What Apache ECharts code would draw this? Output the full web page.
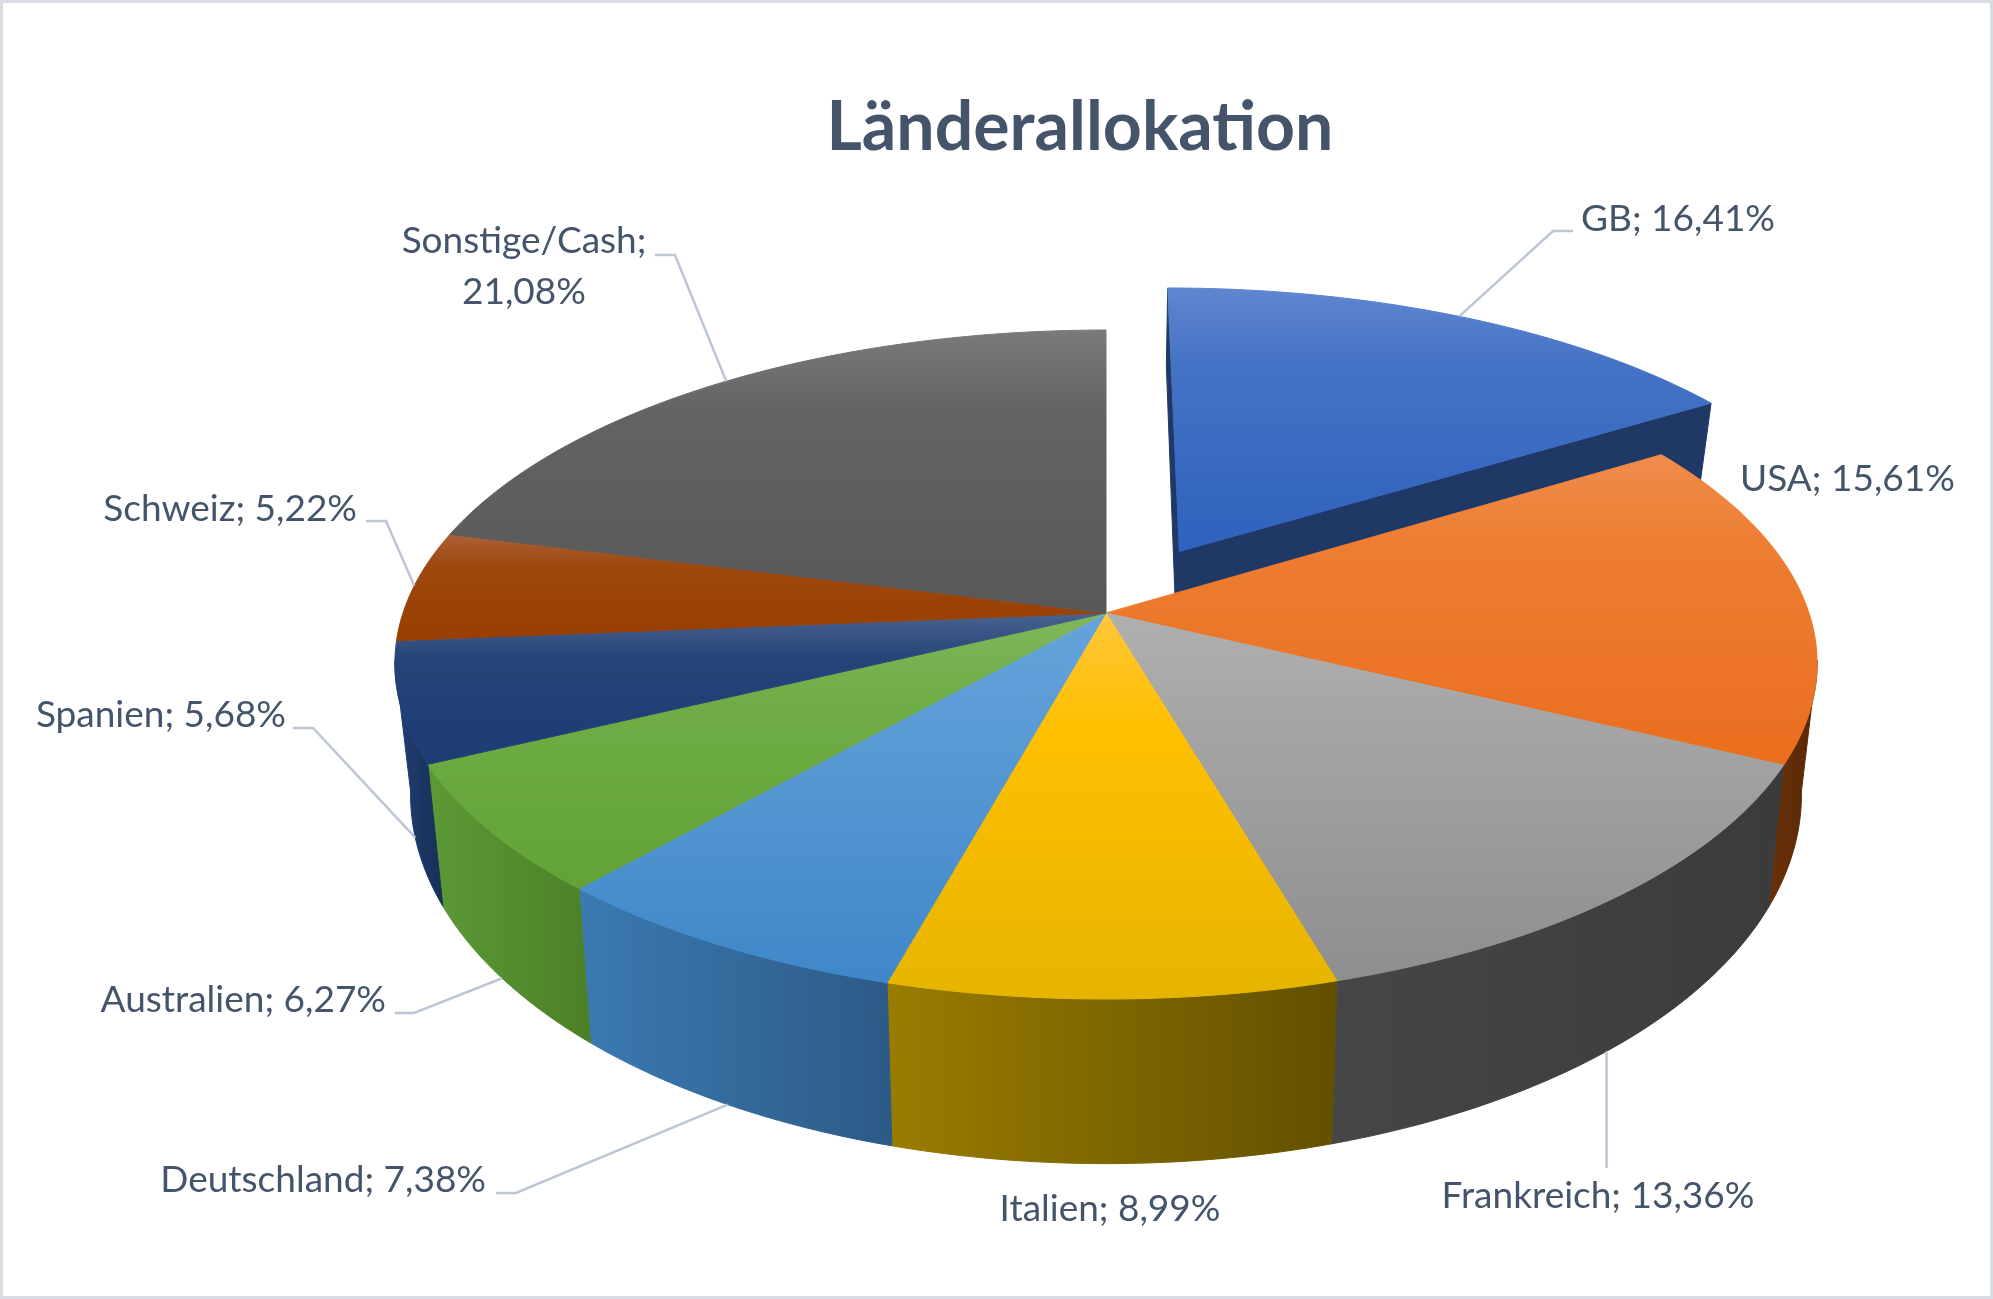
<!DOCTYPE html>
<html>
<head>
<meta charset="utf-8">
<script src="https://cdn.jsdelivr.net/npm/echarts@6/dist/echarts.min.js"></script>
<style>
  html, body { margin: 0; padding: 0; background: #fff; }
  #chart { width: 1993px; height: 1299px; }
</style>
</head>
<body>
<div id="chart"></div>
<script>
/* 3D-style pie (Excel look) drawn with a custom series: each slice's angles
   come from its share, geometry is a pseudo-perspective projection. */
const countries = ["GB", "USA", "Frankreich", "Italien", "Deutschland",
  "Australien", "Spanien", "Schweiz", "Sonstige/Cash"];
const shares = [16.41, 15.61, 13.36, 8.99, 7.38, 6.27, 5.68, 5.22, 21.08];

// ---- style + layout (no data in here) ----
const TOP = ["#4472C4", "#ED7D31", "#A5A5A5", "#FFC000", "#5B9BD5",
  "#70AD47", "#264478", "#9E480E", "#636363"];
const TOP_HI = ["#5f86d0", "#f08c4c", "#b0b0b0", "#ffc63a", "#66a3dc",
  "#7fb85c", "#4a638f", "#ac6038", "#7a7a7a"];
const TOP_LO = ["#2f62be", "#ea6e1e", "#8e8e8e", "#e6b400", "#3f87c8",
  "#62a236", "#1d3b75", "#983e00", "#585858"];
const WALL = [["#1f3866", "#1b315c"], ["#6a3209", "#572707"], ["#464646", "#3b3b3b"],
  ["#9a7c00", "#625000"], ["#3b7ab2", "#2c5a86"], ["#5c9a36", "#4c8028"],
  ["#223f72", "#172f58"], ["#7a3508", "#6a2d06"], ["#4a4a4a", "#3c3c3c"]];
const EXPLODE = [0.218, 0, 0, 0, 0, 0, 0, 0, 0];
const LABEL_AT = [
  { x: 1581, y: 219, align: "left", elbow: [1573, 231, -20] },
  { x: 1740, y: 479, align: "left" },
  { x: 1598, y: 1196, align: "center", drop: 1168 },
  { x: 1110, y: 1209, align: "center" },
  { x: 486, y: 1180, align: "right", elbow: [496, 1193, 20] },
  { x: 386, y: 1000, align: "right", elbow: [395, 1013, 19] },
  { x: 286, y: 715, align: "right", elbow: [293, 728, 20] },
  { x: 357, y: 509, align: "right", elbow: [366, 521, 20] },
  { x: 524, y: 267, align: "center", elbow: [655, 255, 20], wrap: true },
];
const CX = 1106, CY = 613, RX = 703, RY = 334.5, P = 0.154; // top ellipse
const H0 = 125, PH = 0.317, QB = 0.978;                     // wall depth
const WALL_FROM = 98, WALL_TO = 262;                        // visible side arc
const INK = "#44546A", LEAD = "#bcc6d4", FONT = "Lato, 'Open Sans', sans-serif";

const total = shares.reduce((a, b) => a + b, 0);
const starts = [];
shares.reduce((acc, s) => { starts.push(acc / total * 360); return acc + s; }, 0);

const rad = (d) => d * Math.PI / 180;
function proj(u, v, bottom) {
  const w = 1 + P * v;
  let x = RX * u * w, y = RY * v * w;
  if (bottom) { x *= QB; y += H0 * (1 + PH * v); }
  return [CX + x, CY + y];
}
// angle in degrees, clockwise from 12 o'clock
const rim = (d, o, bottom) => proj(Math.sin(rad(d)) + o[0], -Math.cos(rad(d)) + o[1], bottom);

function renderItem(params, api) {
  const i = params.dataIndex;
  const a0 = starts[i], a1 = a0 + api.value(0) / total * 360, mid = (a0 + a1) / 2;
  const e = EXPLODE[i];
  const o = [e * Math.sin(rad(mid)), -e * Math.cos(rad(mid))];
  const base = e > 0 ? 0 : 4; // exploded slice sits at the back
  const kids = [];

  // outer wall, front half only
  const lo = Math.max(a0, WALL_FROM), hi = Math.min(a1, WALL_TO);
  if (hi > lo) {
    const m = Math.max(2, Math.ceil(hi - lo)), top = [], bot = [];
    for (let k = 0; k <= m; k++) {
      const d = lo + (hi - lo) * k / m;
      top.push(rim(d, o, 0)); bot.push(rim(d, o, 1));
    }
    const g = new echarts.graphic.LinearGradient(0, 0, 1, 0,
      [{ offset: 0, color: WALL[i][0] }, { offset: 1, color: WALL[i][1] }]);
    kids.push({ type: "polygon", z2: base, shape: { points: top.concat(bot.reverse()) },
      style: { fill: g, stroke: g, lineWidth: 1 } });
  }
  // cut faces of the exploded slice
  if (e > 0) {
    [a0, a1].forEach((d) => {
      const pts = [proj(o[0], o[1], 0), rim(d, o, 0), rim(d, o, 1), proj(o[0], o[1], 1)];
      kids.push({ type: "polygon", z2: base, shape: { points: pts },
        style: { fill: WALL[i][0], stroke: WALL[i][0], lineWidth: 1 } });
    });
  }
  // top surface
  const n = Math.max(2, Math.ceil(a1 - a0)), topPts = [proj(o[0], o[1], 0)];
  for (let k = 0; k <= n; k++) topPts.push(rim(a0 + (a1 - a0) * k / n, o, 0));
  const tg = new echarts.graphic.LinearGradient(0, 0, 0, 1, [
    { offset: 0, color: TOP_HI[i] }, { offset: 0.3, color: TOP[i] }, { offset: 1, color: TOP_LO[i] }]);
  kids.push({ type: "polygon", z2: base + 1, shape: { points: topPts },
    style: { fill: tg, stroke: tg, lineWidth: 1 } });

  // label + leader line
  const L = LABEL_AT[i];
  const vm = -Math.cos(rad(mid)) + o[1];
  const anchor = vm > 0.05 ? rim(mid, o, 1) : rim(mid, o, 0);
  let lead = null;
  if (L.elbow) { const [ex, ey, dx] = L.elbow; lead = [[ex, ey], [ex + dx, ey], anchor]; }
  else if (L.drop) lead = [[anchor[0], L.drop], anchor];
  if (lead) kids.push({ type: "polyline", z2: 19, shape: { points: lead },
    style: { stroke: LEAD, lineWidth: 2.5, fill: null } });
  const pct = api.value(0).toFixed(2).replace(".", ",") + "%";
  kids.push({ type: "text", z2: 20, x: L.x, y: L.y, style: {
    text: countries[i] + (L.wrap ? ";\n" : "; ") + pct, fill: INK,
    fontFamily: FONT, fontSize: 37, lineHeight: 51, align: L.align, verticalAlign: "middle" } });

  return { type: "group", children: kids };
}

const chart = echarts.init(document.getElementById("chart"));
chart.setOption({
  backgroundColor: "#ffffff",
  animation: false,
  graphic: [
    { type: "rect", silent: true, shape: { x: 1.5, y: 1.5, width: 1990, height: 1296 },
      style: { fill: null, stroke: "#d9dde3", lineWidth: 3 } },
    { type: "text", silent: true, x: 1080, y: 128, style: { text: "Länderallokation",
      fill: INK, fontFamily: FONT, fontWeight: "bold", fontSize: 68,
      align: "center", verticalAlign: "middle" } },
  ],
  series: [{
    type: "custom",
    coordinateSystem: "none",
    silent: true,
    renderItem: renderItem,
    data: shares.map((v, i) => ({ name: countries[i], value: v })),
  }],
});
</script>
</body>
</html>
